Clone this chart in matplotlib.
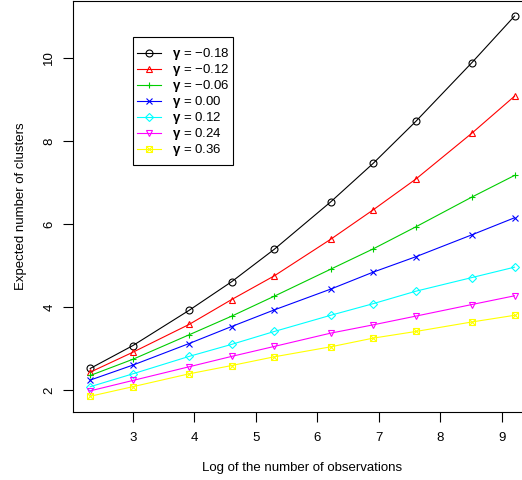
import matplotlib
matplotlib.use("Agg")
import matplotlib.pyplot as plt
from matplotlib.patches import Rectangle

plt.rcParams['font.family'] = ['Liberation Sans', 'DejaVu Sans']
plt.rcParams['mathtext.fontset'] = 'custom'
plt.rcParams['mathtext.rm'] = 'Liberation Sans'
plt.rcParams['mathtext.bf'] = 'Liberation Sans:bold'

# log of number of observations (10, 20, 50, ..., 10000)
log_n = [2.303, 2.996, 3.912, 4.605, 5.298, 6.215, 6.908, 7.601, 8.517, 9.210]

gammas = ['\u22120.18', '\u22120.12', '\u22120.06', '0.00', '0.12', '0.24', '0.36']

k_m018 = [2.52, 3.07, 3.92, 4.61, 5.39, 6.53, 7.46, 8.47, 9.89, 11.01]
k_m012 = [2.43, 2.91, 3.58, 4.18, 4.75, 5.63, 6.34, 7.08, 8.19, 9.08]
k_m006 = [2.35, 2.74, 3.33, 3.78, 4.26, 4.91, 5.40, 5.93, 6.65, 7.17]
k_000 = [2.24, 2.60, 3.12, 3.53, 3.93, 4.43, 4.84, 5.21, 5.74, 6.15]
k_012 = [2.08, 2.39, 2.81, 3.10, 3.41, 3.80, 4.08, 4.38, 4.71, 4.96]
k_024 = [1.98, 2.23, 2.56, 2.81, 3.05, 3.37, 3.57, 3.78, 4.06, 4.27]
k_036 = [1.85, 2.08, 2.39, 2.59, 2.80, 3.04, 3.25, 3.41, 3.64, 3.80]

series = [k_m018, k_m012, k_m006, k_000, k_012, k_024, k_036]
colors = ['black', '#FF0000', '#00CD00', '#0000FF', '#00FFFF', '#FF00FF', '#FFFF00']
markers = ['o', '^', '+', 'x', 'D', 'v', 's']

W, H = 522, 480
fs = 9.5
fig = plt.figure(figsize=(W / 100, H / 100), dpi=100)
# R-style box, cropped slightly at the top and right of the image
ax = fig.add_axes([73.3 / W, 1 - 411.6 / H, (531.5 - 73.3) / W, (411.6 - 0.7) / H])

handles = []
for vals, col, mk in zip(series, colors, markers):
    msize = {'D': 4.2, 's': 4.5}.get(mk, 5.0)
    ln, = ax.plot(log_n, vals, color=col, lw=0.8, marker=mk, markersize=msize,
                  markerfacecolor='none', markeredgecolor=col, markeredgewidth=0.8)
    if mk == 's':
        # pch 7: square with a cross inside
        lx, = ax.plot(log_n, vals, ls='none', marker='x', markersize=4.5,
                      markeredgecolor=col, markeredgewidth=0.8)
        handles.append((ln, lx))
    else:
        handles.append(ln)

ax.set_xlim(2.027, 9.486)
ax.set_ylim(1.48, 11.38)
ax.set_xticks([3, 4, 5, 6, 7, 8, 9])
ax.set_yticks([2, 4, 6, 8, 10])
ax.tick_params(axis='both', length=7, width=0.8, labelsize=fs, colors='black')
ax.tick_params(axis='x', pad=8)
ax.tick_params(axis='y', pad=6)
for lab in ax.get_yticklabels():
    lab.set_rotation(90)
    lab.set_va('center')
for sp in ax.spines.values():
    sp.set_linewidth(0.8)

ax.set_xlabel('Log of the number of observations', fontsize=fs, labelpad=13)
ax.set_ylabel('Expected number of clusters', fontsize=fs, labelpad=12)

labels = [r'$\mathbf{\gamma}$ = ' + g for g in gammas]
leg = ax.legend(handles, labels, loc='upper left',
                bbox_to_anchor=(137 / W, 1 - 46.5 / H), bbox_transform=fig.transFigure,
                frameon=False, borderpad=0, borderaxespad=0, fontsize=fs,
                handlelength=1.79, handletextpad=0.84, labelspacing=0.0)
fig.add_artist(Rectangle((133.3 / W, 1 - 164.7 / H), 99.4 / W, 127.4 / H,
                         transform=fig.transFigure, fill=False,
                         edgecolor='black', lw=0.8))

fig.savefig('out.png', dpi=100)
